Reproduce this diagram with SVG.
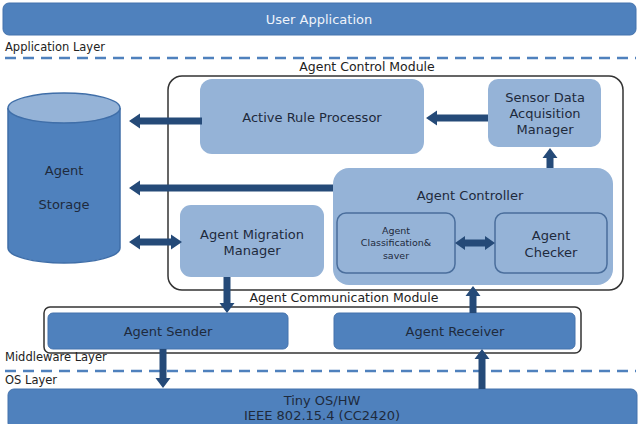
<svg xmlns="http://www.w3.org/2000/svg" width="639" height="424" viewBox="0 0 639 424">
<style>
  text { font-family: "DejaVu Sans", "Noto Sans", sans-serif; }
  .dark { fill: #4f81bd; stroke: #4573ad; stroke-width: 1; }
  .light { fill: #95b3d7; }
  .inner { fill: #95b3d7; stroke: #4a6e9c; stroke-width: 1.5; }
  .mod { fill: none; stroke: #333; stroke-width: 1.5; }
  .lbl { font-size: 13px; fill: #1e2a3c; text-anchor: middle; }
  .small { font-size: 9.5px; fill: #1e2a3c; text-anchor: middle; }
  .layer { font-size: 11.5px; fill: #222; }
  .cap { font-size: 12.5px; fill: #222; text-anchor: middle; }
  .dash { stroke: #4f81bd; stroke-width: 2.5; stroke-dasharray: 11 7; fill: none; }
  .arr { fill: #254a78; }
</style>

<g id="user-application">
  <rect x="3" y="3" width="633" height="32" rx="6" class="dark"/>
  <text x="319" y="24" class="lbl" style="fill:#eef3fa">User Application</text>
</g>
<text x="5" y="51" class="layer">Application Layer</text>
<line x1="5" y1="58" x2="636" y2="58" class="dash"/>

<g id="agent-control-module">
  <text x="367" y="71" class="cap">Agent Control Module</text>
  <rect x="168" y="76" width="455" height="214" rx="14" class="mod"/>
</g>

<g id="agent-storage">
  <path d="M8,108 L8,248 A56,15 0 0 0 120,248 L120,108" fill="#4f81bd" stroke="#3f6ea8" stroke-width="1.5"/>
  <ellipse cx="64" cy="108" rx="56" ry="15" fill="#95b3d7" stroke="#3f6ea8" stroke-width="1.5"/>
  <text x="64" y="175" class="lbl">Agent</text>
  <text x="64" y="209" class="lbl">Storage</text>
</g>

<g id="active-rule-processor">
  <rect x="200" y="79" width="224" height="75" rx="12" class="light"/>
  <text x="312" y="122" class="lbl">Active Rule Processor</text>
</g>

<g id="sensor-data-acquisition-manager">
  <rect x="488" y="79" width="113" height="68" rx="10" class="light"/>
  <text x="545" y="102" class="lbl">Sensor Data</text>
  <text x="545" y="118" class="lbl">Acquisition</text>
  <text x="545" y="134" class="lbl">Manager</text>
</g>

<g id="agent-controller">
  <rect x="333" y="168" width="280" height="117" rx="16" class="light"/>
  <text x="470" y="200" class="lbl">Agent Controller</text>
</g>

<g id="agent-classification-saver">
  <rect x="337" y="213" width="118" height="60" rx="9" class="inner"/>
  <text x="396" y="234" class="small">Agent</text>
  <text x="396" y="246" class="small">Classification&amp;</text>
  <text x="396" y="259" class="small">saver</text>
</g>

<g id="agent-checker">
  <rect x="495" y="213" width="112" height="60" rx="9" class="inner"/>
  <text x="551" y="240" class="lbl">Agent</text>
  <text x="551" y="257" class="lbl">Checker</text>
</g>

<g id="agent-migration-manager">
  <rect x="180" y="205" width="144" height="72" rx="11" class="light"/>
  <text x="252" y="239" class="lbl">Agent Migration</text>
  <text x="252" y="255" class="lbl">Manager</text>
</g>

<g id="agent-communication-module">
  <text x="344" y="302" class="cap">Agent Communication Module</text>
  <rect x="44" y="307" width="537" height="46" rx="6" class="mod"/>
</g>

<g id="agent-sender">
  <rect x="48" y="313" width="240" height="36" rx="5" class="dark"/>
  <text x="168" y="336" class="lbl">Agent Sender</text>
</g>

<g id="agent-receiver">
  <rect x="334" y="313" width="241" height="36" rx="5" class="dark"/>
  <text x="455" y="336" class="lbl">Agent Receiver</text>
</g>

<text x="5" y="361" class="layer">Middleware Layer</text>
<line x1="5" y1="371" x2="636" y2="371" class="dash"/>
<text x="5" y="384" class="layer">OS Layer</text>

<g id="tiny-os-hw">
  <rect x="8" y="389" width="629" height="40" rx="6" class="dark"/>
  <text x="322" y="405" class="lbl">Tiny OS/HW</text>
  <text x="322" y="420" class="lbl">IEEE 802.15.4 (CC2420)</text>
</g>

<g id="connectors" class="arr">
  <polygon points="202,117.5 140,117.5 140,113.5 129,121 140,128.5 140,124.5 202,124.5"/>
  <polygon points="333,184.5 140,184.5 140,180.5 129,188 140,195.5 140,191.5 333,191.5"/>
  <polygon points="129,242 140,234.5 140,238.5 171,238.5 171,234.5 182,242 171,249.5 171,245.5 140,245.5 140,249.5"/>
  <polygon points="488,114.5 437,114.5 437,110.5 426,118 437,125.5 437,121.5 488,121.5"/>
  <polygon points="546.5,168 546.5,158 542.5,158 550,148 557.5,158 553.5,158 553.5,168"/>
  <polygon points="455,243 465,236 465,239.5 485,239.5 485,236 495,243 485,250 485,246.5 465,246.5 465,250"/>
  <polygon points="223.5,277 230.5,277 230.5,303 234.5,303 227,313 219.5,303 223.5,303"/>
  <polygon points="469.5,313 476.5,313 476.5,296 480.5,296 473,286 465.5,296 469.5,296"/>
  <polygon points="159.5,349 166.5,349 166.5,378 170.5,378 163,388 155.5,378 159.5,378"/>
  <polygon points="478.5,389 485.5,389 485.5,359 489.5,359 482,349 474.5,359 478.5,359"/>
</g>
</svg>
